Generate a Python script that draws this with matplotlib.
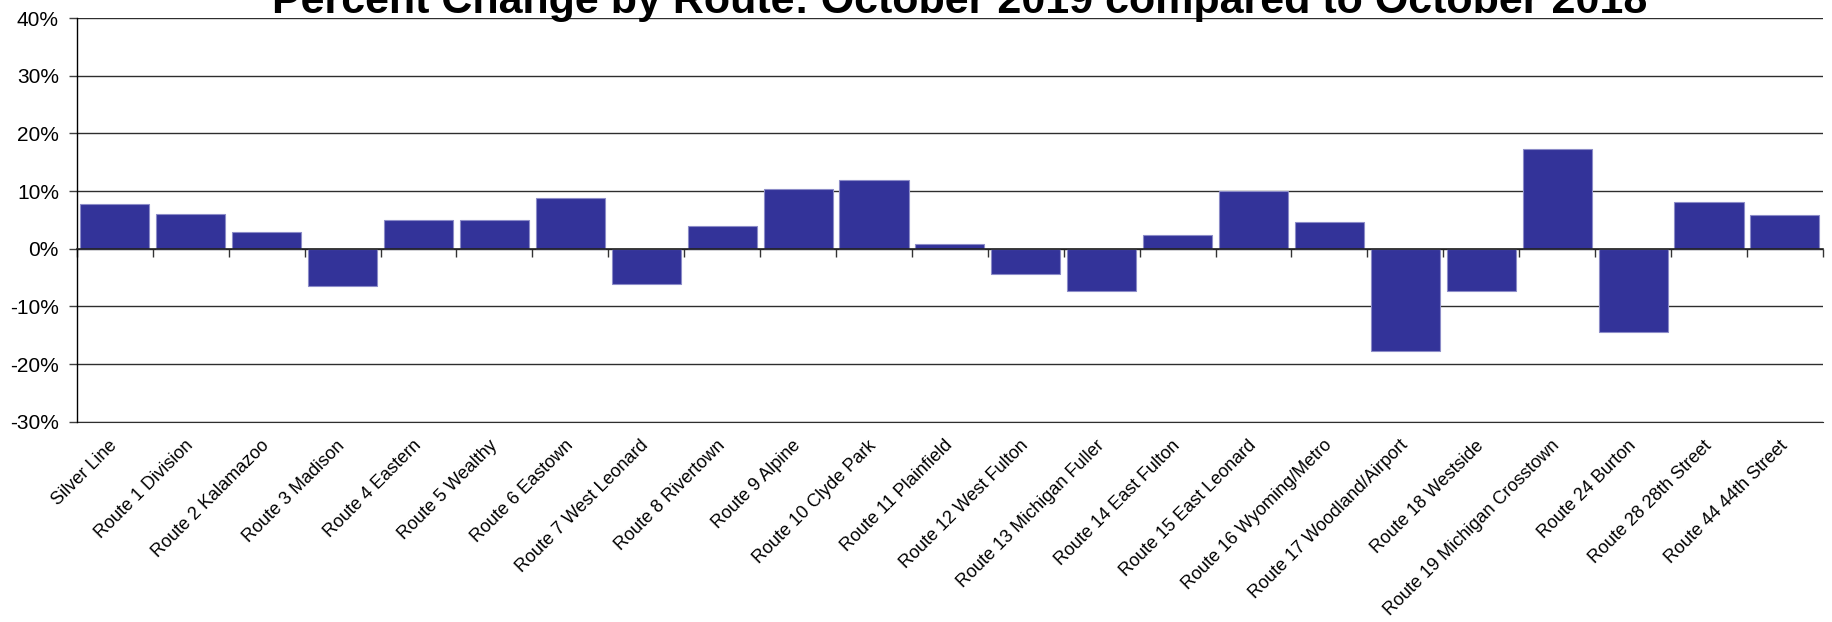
import numpy as np
import matplotlib
matplotlib.use("Agg")
import matplotlib.pyplot as plt
from matplotlib.ticker import FuncFormatter
from matplotlib.transforms import ScaledTranslation

plt.rcParams['font.family'] = ['Liberation Sans', 'DejaVu Sans']

routes = ["Silver Line", "Route 1 Division", "Route 2 Kalamazoo", "Route 3 Madison",
          "Route 4 Eastern", "Route 5 Wealthy", "Route 6 Eastown", "Route 7 West Leonard",
          "Route 8 Rivertown", "Route 9 Alpine", "Route 10 Clyde Park", "Route 11 Plainfield",
          "Route 12 West Fulton", "Route 13 Michigan Fuller", "Route 14 East Fulton",
          "Route 15 East Leonard", "Route 16 Wyoming/Metro", "Route 17 Woodland/Airport",
          "Route 18 Westside", "Route 19 Michigan Crosstown", "Route 24 Burton",
          "Route 28 28th Street", "Route 44 44th Street"]
pct_change = [7.8, 6.1, 2.9, -6.4, 5.0, 5.0, 8.8, -6.2, 4.0, 10.3, 12.0, 0.8,
              -4.4, -7.4, 2.4, 10.0, 4.7, -17.8, -7.3, 17.3, -14.4, 8.1, 5.8]
y_ticks = [-30, -20, -10, 0, 10, 20, 30, 40]

title = "Percent Change by Route: October 2019 compared to October 2018"

fig = plt.figure(figsize=(18.32, 6.22), dpi=100)
ax = fig.add_axes([0.042, 0.322, 0.953, 0.649])

x = np.arange(len(routes))
ax.bar(x, pct_change, width=0.91, color='#333399', edgecolor='#8c8cc8',
       linewidth=0.8, zorder=2)

ax.set_xlim(-0.5, len(routes) - 0.5)
ax.set_ylim(y_ticks[0], y_ticks[-1])
ax.set_yticks(y_ticks)
ax.yaxis.set_major_formatter(FuncFormatter(lambda v, p: f"{v:.0f}%"))
ax.tick_params(axis='y', length=6, width=1, color='#404040', pad=7, labelsize=15)
ax.grid(axis='y', color='#2e2e2e', linewidth=1.0, zorder=0)
ax.set_axisbelow(True)

for side in ['top', 'right']:
    ax.spines[side].set_visible(False)
ax.spines['left'].set_color('black')
ax.spines['left'].set_linewidth(1.0)

# zero line acts as the category axis, ticks between the bars
ax.spines['bottom'].set_position(('data', 0))
ax.spines['bottom'].set_color('#222222')
ax.spines['bottom'].set_linewidth(1.2)
ax.spines['bottom'].set_zorder(3)
ax.set_xticks([])
ax.set_xticks(np.arange(len(routes) + 1) - 0.5, minor=True)
ax.tick_params(axis='x', which='minor', length=6, width=1, color='#333333',
               direction='out')

# route names hang below the plot area
sec = ax.secondary_xaxis(0.0)
sec.set_xticks(x, routes, rotation=45, ha='right')
sec.tick_params(length=0, pad=11, labelsize=13)
sec.spines['bottom'].set_color('#2e2e2e')
nudge = ScaledTranslation(0.06, 0, fig.dpi_scale_trans)
for lbl in sec.get_xticklabels():
    lbl.set_transform(lbl.get_transform() + nudge)

fig.text(0.524, 1 - 13 / 622, title, ha='center', va='baseline',
         fontsize=31, fontweight='bold')

fig.savefig('out.png', dpi=100)
